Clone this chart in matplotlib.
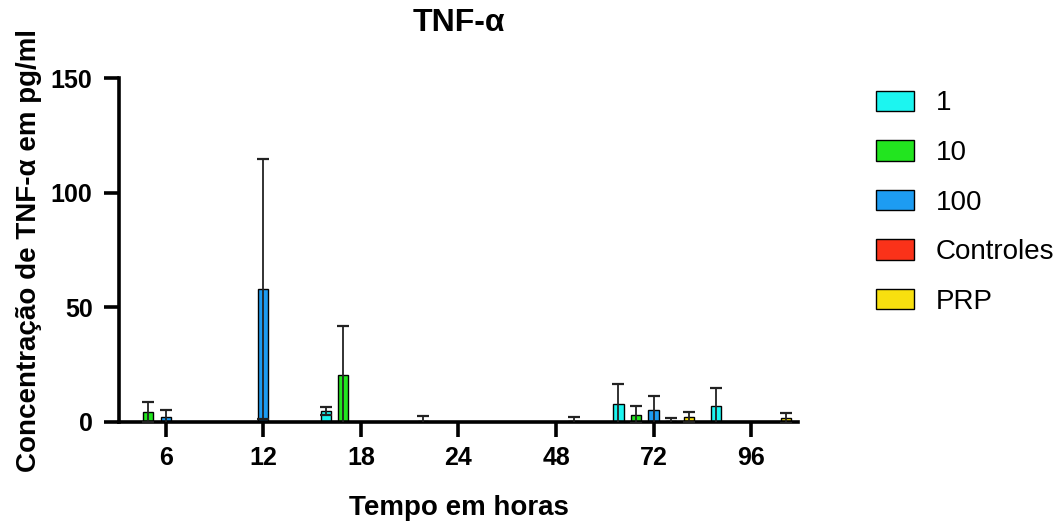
import numpy as np
import matplotlib
matplotlib.use('Agg')
import matplotlib.pyplot as plt

plt.rcParams['font.family'] = ['Liberation Sans', 'DejaVu Sans']

# time points (hours) and the five groups
times = ['6', '12', '18', '24', '48', '72', '96']
series = ['1', '10', '100', 'Controles', 'PRP']
colors = ['#1cf5f0', '#22e51f', '#1d9cf2', '#fa3219', '#f8e00f']

nan = np.nan
# mean values, pg/ml (nan = no bar)
vals_1 = [nan, nan, 4.9, 0.5, nan, 7.9, 7.0]
vals_10 = [4.2, nan, 20.5, nan, nan, 3.2, nan]
vals_100 = [2.2, 58.0, nan, nan, nan, 5.2, nan]
vals_ctrl = [nan, nan, nan, nan, 0.3, 0.3, nan]
vals_prp = [nan, nan, nan, nan, nan, 2.3, 1.6]

# error (SD)
err_1 = [nan, nan, 1.8, 2.1, nan, 8.7, 7.7]
err_10 = [4.4, nan, 21.4, nan, nan, 3.8, nan]
err_100 = [3.0, 56.6, nan, nan, nan, 6.3, nan]
err_ctrl = [nan, nan, nan, nan, 1.9, 1.6, nan]
err_prp = [nan, nan, nan, nan, nan, 2.2, 2.2]

all_vals = [vals_1, vals_10, vals_100, vals_ctrl, vals_prp]
all_errs = [err_1, err_10, err_100, err_ctrl, err_prp]

fig = plt.figure(figsize=(10.64, 5.24), dpi=100)
ax = fig.add_axes([0.1118, 0.1947, 0.6382, 0.6563])

x = np.arange(len(times))
step = 0.18
width = 0.105
for i, (v, e) in enumerate(zip(all_vals, all_errs)):
    pos = x + (i - 2) * step
    ax.bar(pos, v, width=width, color=colors[i], edgecolor='black',
           linewidth=1.0, label=series[i], zorder=2)
    ax.errorbar(pos, v, yerr=e, fmt='none', ecolor='#222222',
                elinewidth=1.3, capsize=4, capthick=1.6, zorder=3)

ax.set_xlim(-0.48, 6.48)
ax.set_ylim(0, 150)
ax.set_yticks([0, 50, 100, 150])
ax.set_xticks(x)
ax.set_xticklabels(times)

for side in ['top', 'right']:
    ax.spines[side].set_visible(False)
for side in ['left', 'bottom']:
    ax.spines[side].set_linewidth(2.6)
ax.tick_params(axis='both', length=11, width=2.6, labelsize=18, pad=8)
ax.tick_params(axis='x', pad=6)
for lab in ax.get_xticklabels() + ax.get_yticklabels():
    lab.set_fontweight('bold')

ax.set_title('TNF-α', fontsize=23, fontweight='bold', pad=34)
ax.set_xlabel('Tempo em horas', fontsize=20, fontweight='bold', labelpad=18)
ax.set_ylabel('Concentração de TNF-α em pg/ml', fontsize=20,
              fontweight='bold', labelpad=6)

fig.legend(loc='upper left', bbox_to_anchor=(0.8, 0.875), frameon=False,
           fontsize=20, handlelength=1.35, handleheight=0.75,
           labelspacing=0.85, handletextpad=0.8)

fig.savefig('out.png', dpi=100)
